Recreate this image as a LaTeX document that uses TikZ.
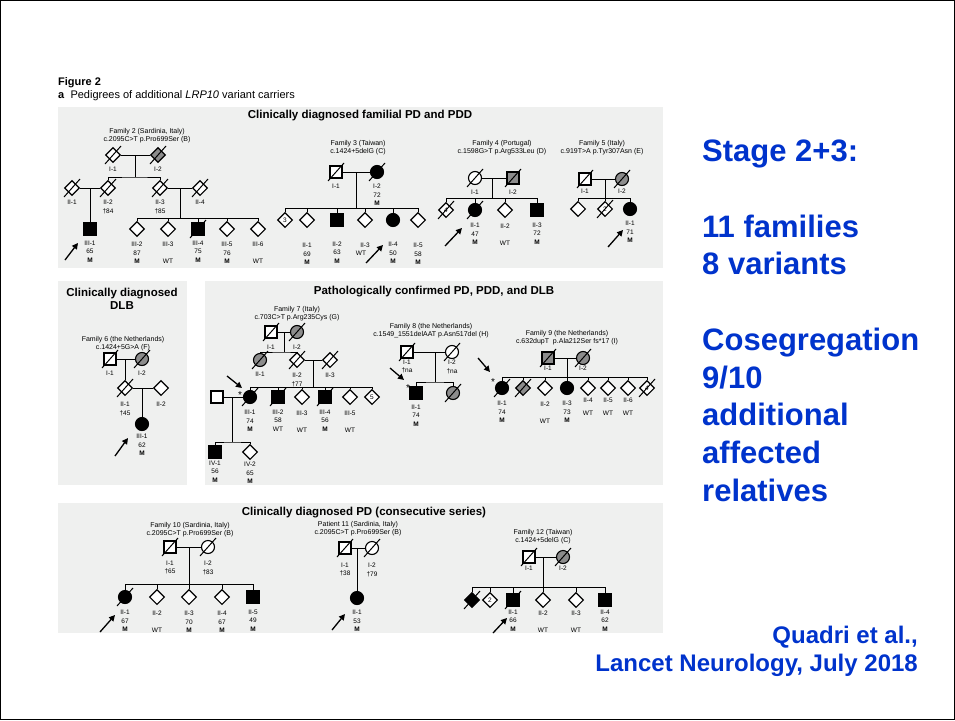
\documentclass[tikz,border=0pt]{standalone}
\usepackage{fontspec}
\setmainfont{Liberation Sans}
\usetikzlibrary{positioning,shapes.geometric,arrows.meta}
\definecolor{panel}{RGB}{239,240,239}
\definecolor{cargray}{RGB}{140,140,140}
\definecolor{slideblue}{RGB}{0,51,204}
\tikzset{
  ind/.style={draw,line width=1.1pt,fill=white,inner sep=0pt},
  male/.style={ind,rectangle,minimum size=12},
  female/.style={ind,circle,minimum size=13},
  unk/.style={ind,diamond,minimum size=15},
  aff/.style={fill=black},
  car/.style={fill=cargray},
  num/.style={font=\fontsize{6.5}{7}\selectfont},
  kin/.style={line width=1pt},
  lbl/.style={font=\fontsize{6.5}{8.5}\selectfont,align=center,inner sep=0pt,anchor=north},
  ttl/.style={font=\fontsize{7}{7.7}\selectfont,align=center,inner sep=0pt},
  hdr/.style={font=\bfseries\fontsize{11.5}{13}\selectfont,align=center,inner sep=0pt},
  proband/.style={line width=1.3pt,-{Triangle[length=6pt,width=6pt]}},
  astx/.style={font=\fontsize{10}{10}\selectfont,inner sep=0pt},
}
\begin{document}
\begin{tikzpicture}[x=1pt,y=-1pt]
\useasboundingbox (0,0) rectangle (955,720);
\draw[line width=1.2pt] (0.6,0.6) rectangle (954.4,719.4);
\fill[panel] (58,107) rectangle (663,268);
\fill[panel] (58,281) rectangle (187,485);
\fill[panel] (205,281) rectangle (663,485);
\fill[panel] (58,503) rectangle (663,633);
\node[font=\bfseries\fontsize{11}{13}\selectfont,anchor=west,inner sep=0pt] (fig) at (58,83) {Figure 2};
\node[font=\fontsize{11}{13}\selectfont,anchor=west,inner sep=0pt] (cap) at (58,96) {\textbf{a}\ \ Pedigrees of additional \textit{LRP10} variant carriers};
\node[hdr] (h1) at (360,116) {Clinically diagnosed familial PD and PDD};
\node[hdr] (h2) at (122,298.5) {Clinically diagnosed\\DLB};
\node[hdr] (h3) at (434,292) {Pathologically confirmed PD, PDD, and DLB};
\node[hdr] (h4) at (364,513) {Clinically diagnosed PD (consecutive series)};

% family 2
\node[ttl] (f2t) at (147,135.5) {Family 2 (Sardinia, Italy)\\c.2095C>T p.Pro699Ser (B)};
\node[unk] (f2i1) at (113,155) {};
\node[unk,car] (f2i2) at (158,155) {};
\node[unk] (f2ii1) at (72,188) {};
\node[unk] (f2ii2) at (108,188) {};
\node[unk] (f2ii3) at (160,188) {};
\node[unk] (f2ii4) at (200,188) {};
\node[male,aff] (f2iii1) at (90,229) {};
\node[unk] (f2iii2) at (137,229) {};
\node[unk] (f2iii3) at (168,229) {};
\node[male,aff] (f2iii4) at (198,229) {};
\node[unk] (f2iii5) at (227,229) {};
\node[unk] (f2iii6) at (258,229) {};
\coordinate (f2m1) at (135,155);
\coordinate (f2s1) at (135,177);
\coordinate (f2m2) at (90,188);
\coordinate (f2m3) at (180,188);
\coordinate (f2s3) at (180,218);
\draw[kin] (f2i1) -- (f2i2) (f2m1) -- (f2s1) (f2ii2) |- (f2s1) -| (f2ii3);
\draw[kin] (f2ii1) -- (f2ii2) (f2ii3) -- (f2ii4) (f2m2) -- (f2iii1) (f2m3) -- (f2s3);
\draw[kin] (f2iii2 |- f2s3) -- (f2iii6 |- f2s3);
\foreach \n in {f2iii2,f2iii3,f2iii4,f2iii5,f2iii6} \draw[kin] (\n) -- (\n |- f2s3);
\foreach \n in {f2i1,f2i2,f2ii1,f2ii2,f2ii3,f2ii4,f2iii4}
  \draw[kin] ([shift={(-8,9)}]\n.center) -- ([shift={(8,-9)}]\n.center);
\node[lbl,below=4pt of f2i1] (f2i1l) {I-1};
\node[lbl,below=4pt of f2i2] (f2i2l) {I-2};
\node[lbl,below=4pt of f2ii1] (f2ii1l) {II-1};
\node[lbl,below=4pt of f2ii2] (f2ii2l) {II-2\\†84};
\node[lbl,below=4pt of f2ii3] (f2ii3l) {II-3\\†85};
\node[lbl,below=4pt of f2ii4] (f2ii4l) {II-4};
\node[lbl,below=5pt of f2iii1] (f2iii1l) {III-1\\65\\\textbf{M}};
\node[lbl,below=5pt of f2iii2] (f2iii2l) {III-2\\87\\\textbf{M}};
\node[lbl,below=5pt of f2iii3] (f2iii3l) {III-3\\\mbox{}\\WT};
\node[lbl,below=5pt of f2iii4] (f2iii4l) {III-4\\75\\\textbf{M}};
\node[lbl,below=5pt of f2iii5] (f2iii5l) {III-5\\76\\\textbf{M}};
\node[lbl,below=5pt of f2iii6] (f2iii6l) {III-6\\\mbox{}\\WT};
\draw[proband] ([shift={(-25,31)}]f2iii1.center) -- ([shift={(-12,14)}]f2iii1.center);

% family 3
\node[ttl] (f3t) at (358,147.5) {Family 3 (Taiwan)\\c.1424+5delG (C)};
\node[male] (f3i1) at (336,172) {};
\node[female,aff] (f3i2) at (377,172) {};
\node[unk,num] (f3c) at (285,220) {3};
\node[unk] (f3ii1) at (307,220) {};
\node[male,aff] (f3ii2) at (337,220) {};
\node[unk] (f3ii3) at (365,220) {};
\node[female,aff] (f3ii4) at (393,220) {};
\node[unk] (f3ii5) at (418,220) {};
\coordinate (f3m) at (356,172);
\coordinate (f3s) at (356,208);
\draw[kin] (f3i1) -- (f3i2) (f3m) -- (f3s) (f3c |- f3s) -- (f3ii5 |- f3s);
\foreach \n in {f3c,f3ii1,f3ii2,f3ii3,f3ii4,f3ii5} \draw[kin] (\n) -- (\n |- f3s);
\foreach \n in {f3i1,f3i2}
  \draw[kin] ([shift={(-8,9)}]\n.center) -- ([shift={(8,-9)}]\n.center);
\node[lbl,below=5pt of f3i1] (f3i1l) {I-1};
\node[lbl,below=5pt of f3i2] (f3i2l) {I-2\\72\\\textbf{M}};
\node[lbl,below=15pt of f3ii1] (f3ii1l) {II-1\\69\\\textbf{M}};
\node[lbl,below=15pt of f3ii2] (f3ii2l) {II-2\\63\\\textbf{M}};
\node[lbl,below=15pt of f3ii3] (f3ii3l) {II-3};
\node[lbl] (f3ii3w) at ([shift={(-4,3)}]f3ii3l.south) {WT};
\node[lbl,below=15pt of f3ii4] (f3ii4l) {II-4\\50\\\textbf{M}};
\node[lbl,below=15pt of f3ii5] (f3ii5l) {II-5\\58\\\textbf{M}};
\draw[proband] ([shift={(1,43)}]f3ii3.center) -- ([shift={(18,25)}]f3ii3.center);

% family 4
\node[ttl] (f4t) at (502,147.5) {Family 4 (Portugal)\\c.1598G>T p.Arg533Leu (D)};
\node[female] (f4i1) at (475,178) {};
\node[male,car] (f4i2) at (513,178) {};
\node[unk,num] (f4c) at (446,210) {4};
\node[female,aff] (f4ii1) at (475,210) {};
\node[unk] (f4ii2) at (505,210) {};
\node[male,aff] (f4ii3) at (537,210) {};
\coordinate (f4m) at (492,178);
\coordinate (f4s) at (492,198);
\draw[kin] (f4i1) -- (f4i2) (f4m) -- (f4s) (f4c |- f4s) -- (f4ii3 |- f4s);
\foreach \n in {f4c,f4ii1,f4ii2,f4ii3} \draw[kin] (\n) -- (\n |- f4s);
\foreach \n in {f4i1,f4i2,f4c,f4ii1}
  \draw[kin] ([shift={(-8,9)}]\n.center) -- ([shift={(8,-9)}]\n.center);
\node[lbl,below=5pt of f4i1] (f4i1l) {I-1};
\node[lbl,below=5pt of f4i2] (f4i2l) {I-2};
\node[lbl,below=6pt of f4ii1] (f4ii1l) {II-1\\47\\\textbf{M}};
\node[lbl,below=6pt of f4ii2] (f4ii2l) {II-2\\\mbox{}\\WT};
\node[lbl,below=6pt of f4ii3] (f4ii3l) {II-3\\72\\\textbf{M}};
\draw[proband] ([shift={(-30,36)}]f4ii1.center) -- ([shift={(-13,18)}]f4ii1.center);

% family 5
\node[ttl] (f5t) at (602,147.5) {Family 5 (Italy)\\c.919T>A p.Tyr307Asn (E)};
\node[male] (f5i1) at (585,179) {};
\node[female,car] (f5i2) at (622,179) {};
\node[unk] (f5ii0) at (578,209) {};
\node[unk,num] (f5c) at (605,209) {2};
\node[female,aff] (f5ii1) at (630,209) {};
\coordinate (f5m) at (605,179);
\coordinate (f5s) at (605,198);
\draw[kin] (f5i1) -- (f5i2) (f5m) -- (f5s) (f5ii0 |- f5s) -- (f5ii1 |- f5s);
\foreach \n in {f5ii0,f5c,f5ii1} \draw[kin] (\n) -- (\n |- f5s);
\foreach \n in {f5i1,f5i2,f5c}
  \draw[kin] ([shift={(-8,9)}]\n.center) -- ([shift={(8,-9)}]\n.center);
\node[lbl,below=3pt of f5i1] (f5i1l) {I-1};
\node[lbl,below=3pt of f5i2] (f5i2l) {I-2};
\node[lbl,below=5pt of f5ii1] (f5ii1l) {II-1\\71\\\textbf{M}};
\draw[proband] ([shift={(-22,38)}]f5ii1.center) -- ([shift={(-7,21)}]f5ii1.center);

% family 6
\node[ttl] (f6t) at (123,344) {Family 6 (the Netherlands)\\c.1424+5G>A (F)};
\node[male] (f6i1) at (110,359) {};
\node[female,car] (f6i2) at (142,359) {};
\node[unk] (f6ii1) at (125,388) {};
\node[unk] (f6ii2) at (161,388) {};
\node[female,aff] (f6iii1) at (142,424) {};
\coordinate (f6m1) at (125,359);
\coordinate (f6m2) at (142,388);
\draw[kin] (f6i1) -- (f6i2) (f6m1) -- (f6ii1) (f6ii1) -- (f6ii2) (f6m2) -- (f6iii1);
\foreach \n in {f6i1,f6i2,f6ii1}
  \draw[kin] ([shift={(-8,9)}]\n.center) -- ([shift={(8,-9)}]\n.center);
\node[lbl,below=5pt of f6i1] (f6i1l) {I-1};
\node[lbl,below=5pt of f6i2] (f6i2l) {I-2};
\node[lbl,below=6pt of f6ii1] (f6ii1l) {II-1\\†45};
\node[lbl,below=6pt of f6ii2] (f6ii2l) {II-2};
\node[lbl,below=3pt of f6iii1] (f6iii1l) {III-1\\62\\\textbf{M}};
\draw[proband] ([shift={(-27,32)}]f6iii1.center) -- ([shift={(-14,14)}]f6iii1.center);

% family 7
\node[ttl] (f7t) at (297,313.5) {Family 7 (Italy)\\c.703C>T p.Arg235Cys (G)};
\node[male] (f7i1) at (271,332) {};
\node[female,car] (f7i2) at (297,332) {};
\node[female,car] (f7ii1) at (260,360) {};
\node[unk] (f7ii2) at (297,360) {};
\node[unk] (f7ii3) at (330,360) {};
\node[male] (f7sp) at (217,397) {};
\node[female,aff] (f7iii1) at (250,397) {};
\node[male,aff] (f7iii2) at (278,397) {};
\node[unk] (f7iii3) at (302,397) {};
\node[male,aff] (f7iii4) at (325,397) {};
\node[unk] (f7iii5) at (350,397) {};
\node[unk,num] (f7c) at (372,397) {5};
\node[male,aff] (f7iv1) at (215,452) {};
\node[unk] (f7iv2) at (250,452) {};
\coordinate (f7m1) at (284,332);
\coordinate (f7s1) at (284,352);
\coordinate (f7m2) at (313,360);
\coordinate (f7s2) at (313,387);
\coordinate (f7m3) at (232,397);
\coordinate (f7s3) at (232,442);
\draw[kin] (f7i1) -- (f7i2) (f7m1) -- (f7s1) (f7ii1) |- (f7s1) -| (f7ii2);
\draw[kin] (f7ii2) -- (f7ii3) (f7m2) -- (f7s2) (f7iii1 |- f7s2) -- (f7c |- f7s2);
\foreach \n in {f7iii1,f7iii2,f7iii3,f7iii4,f7iii5,f7c} \draw[kin] (\n) -- (\n |- f7s2);
\draw[kin] (f7sp) -- (f7iii1) (f7m3) -- (f7s3) (f7iv1) |- (f7s3) -| (f7iv2);
\foreach \n in {f7i1,f7i2,f7ii1,f7ii2,f7ii3,f7iii1,f7iii2,f7iii4}
  \draw[kin] ([shift={(-8,9)}]\n.center) -- ([shift={(8,-9)}]\n.center);
\node[lbl,below=6pt of f7i1] (f7i1l) {I-1};
\node[lbl,below=6pt of f7i2] (f7i2l) {I-2};
\node[lbl,below=5pt of f7ii1] (f7ii1l) {II-1};
\node[lbl,below=5pt of f7ii2] (f7ii2l) {II-2\\†77};
\node[lbl,below=5pt of f7ii3] (f7ii3l) {II-3};
\node[lbl,below=6pt of f7iii1] (f7iii1l) {III-1\\74\\\textbf{M}};
\node[lbl,below=6pt of f7iii2] (f7iii2l) {III-2\\58\\WT};
\node[lbl,below=6pt of f7iii3] (f7iii3l) {III-3\\\mbox{}\\WT};
\node[lbl,below=6pt of f7iii4] (f7iii4l) {III-4\\56\\\textbf{M}};
\node[lbl,below=6pt of f7iii5] (f7iii5l) {III-5\\\mbox{}\\WT};
\node[lbl,below=2pt of f7iv1] (f7iv1l) {IV-1\\56\\\textbf{M}};
\node[lbl,below=2pt of f7iv2] (f7iv2l) {IV-2\\65\\\textbf{M}};
\node[astx] (f7a) at ([shift={(-10,-2)}]f7iii1.center) {*};
\draw[proband] ([shift={(-23,-21)}]f7iii1.center) -- ([shift={(-8,-9)}]f7iii1.center);

% family 8
\node[ttl] (f8t) at (431,331) {Family 8 (the Netherlands)\\c.1549\_1551delAAT p.Asn517del (H)};
\node[male] (f8i1) at (407,352) {};
\node[female] (f8i2) at (452,352) {};
\node[male,aff] (f8ii1) at (416,393) {};
\node[female,car] (f8ii2) at (453,393) {};
\coordinate (f8m) at (435,352);
\coordinate (f8s) at (435,382);
\draw[kin] (f8i1) -- (f8i2) (f8m) -- (f8s) (f8ii1) |- (f8s) -| (f8ii2);
\foreach \n in {f8i1,f8i2,f8ii2}
  \draw[kin] ([shift={(-8,9)}]\n.center) -- ([shift={(8,-9)}]\n.center);
\node[lbl,below=1pt of f8i1] (f8i1l) {I-1\\†na};
\node[lbl,below=1pt of f8i2] (f8i2l) {I-2\\†na};
\node[lbl,below=5pt of f8ii1] (f8ii1l) {II-1\\74\\\textbf{M}};
\node[astx] (f8a) at ([shift={(-8,-5)}]f8ii1.center) {*};
\draw[proband] ([shift={(-26,-25)}]f8ii1.center) -- ([shift={(-12,-13)}]f8ii1.center);

% family 9
\node[ttl] (f9t) at (567,337.5) {Family 9 (the Netherlands)\\c.632dupT\ \ p.Ala212Ser fs*17 (I)};
\node[male,car] (f9i1) at (548,358) {};
\node[female,car] (f9i2) at (583,358) {};
\node[female,aff] (f9ii1) at (502,388) {};
\node[unk,car] (f9g) at (523,388) {};
\node[unk] (f9ii2) at (545,388) {};
\node[female,aff] (f9ii3) at (567,388) {};
\node[unk] (f9ii4) at (588,388) {};
\node[unk] (f9ii5) at (608,388) {};
\node[unk] (f9ii6) at (628,388) {};
\node[unk,num] (f9c) at (647,388) {4};
\coordinate (f9m) at (567,358);
\coordinate (f9s) at (567,377);
\draw[kin] (f9i1) -- (f9i2) (f9m) -- (f9s) (f9ii1 |- f9s) -- (f9c |- f9s);
\foreach \n in {f9ii1,f9g,f9ii2,f9ii3,f9ii4,f9ii5,f9ii6,f9c} \draw[kin] (\n) -- (\n |- f9s);
\foreach \n in {f9i1,f9i2,f9ii1,f9g,f9c}
  \draw[kin] ([shift={(-8,9)}]\n.center) -- ([shift={(8,-9)}]\n.center);
\node[lbl,below=1pt of f9i1] (f9i1l) {I-1};
\node[lbl,below=1pt of f9i2] (f9i2l) {I-2};
\node[lbl,below=6pt of f9ii1] (f9ii1l) {II-1\\74\\\textbf{M}};
\node[lbl,below=6pt of f9ii2] (f9ii2l) {II-2\\\mbox{}\\WT};
\node[lbl,below=6pt of f9ii3] (f9ii3l) {II-3\\73\\\textbf{M}};
\node[lbl,below=2pt of f9ii4] (f9ii4l) {II-4\\[4pt]WT};
\node[lbl,below=2pt of f9ii5] (f9ii5l) {II-5\\[4pt]WT};
\node[lbl,below=2pt of f9ii6] (f9ii6l) {II-6\\[4pt]WT};
\node[astx] (f9a) at ([shift={(-9,-6)}]f9ii1.center) {*};
\draw[proband] ([shift={(-24,-30)}]f9ii1.center) -- ([shift={(-12,-16)}]f9ii1.center);

% family 10
\node[ttl] (f10t) at (190,530) {Family 10 (Sardinia, Italy)\\c.2095C>T p.Pro699Ser (B)};
\node[male] (f10i1) at (170,547) {};
\node[female] (f10i2) at (208,547) {};
\node[female,aff] (f10ii1) at (125,597) {};
\node[unk] (f10ii2) at (157,597) {};
\node[unk] (f10ii3) at (189,597) {};
\node[unk] (f10ii4) at (222,597) {};
\node[male,aff] (f10ii5) at (253,597) {};
\coordinate (f10m) at (189,547);
\coordinate (f10s) at (189,584);
\draw[kin] (f10i1) -- (f10i2) (f10m) -- (f10s) (f10ii1 |- f10s) -- (f10ii5 |- f10s);
\foreach \n in {f10ii1,f10ii2,f10ii3,f10ii4,f10ii5} \draw[kin] (\n) -- (\n |- f10s);
\foreach \n in {f10i1,f10i2,f10ii1}
  \draw[kin] ([shift={(-8,9)}]\n.center) -- ([shift={(8,-9)}]\n.center);
\node[lbl,below=7pt of f10i1] (f10i1l) {I-1\\†65};
\node[lbl,below=7pt of f10i2] (f10i2l) {I-2\\†83};
\node[lbl,below=6pt of f10ii1] (f10ii1l) {II-1\\67\\\textbf{M}};
\node[lbl,below=6pt of f10ii2] (f10ii2l) {II-2\\\mbox{}\\WT};
\node[lbl,below=6pt of f10ii3] (f10ii3l) {II-3\\70\\\textbf{M}};
\node[lbl,below=6pt of f10ii4] (f10ii4l) {II-4\\67\\\textbf{M}};
\node[lbl,below=6pt of f10ii5] (f10ii5l) {II-5\\49\\\textbf{M}};
\draw[proband] ([shift={(-25,35)}]f10ii1.center) -- ([shift={(-10,18)}]f10ii1.center);

% patient 11
\node[ttl] (p11t) at (358,529) {Patient 11 (Sardinia, Italy)\\c.2095C>T p.Pro699Ser (B)};
\node[male] (p11i1) at (345,548) {};
\node[female] (p11i2) at (372,548) {};
\node[female,aff] (p11ii1) at (357,598) {};
\coordinate (p11m) at (357,548);
\draw[kin] (p11i1) -- (p11i2) (p11m) -- (p11ii1);
\foreach \n in {p11i1,p11i2}
  \draw[kin] ([shift={(-8,9)}]\n.center) -- ([shift={(8,-9)}]\n.center);
\node[lbl,below=8pt of p11i1] (p11i1l) {I-1\\†38};
\node[lbl,below=8pt of p11i2] (p11i2l) {I-2\\†79};
\node[lbl,below=5pt of p11ii1] (p11ii1l) {II-1\\53\\\textbf{M}};
\draw[proband] ([shift={(-25,32)}]p11ii1.center) -- ([shift={(-12,16)}]p11ii1.center);

% family 12
\node[ttl] (f12t) at (543,537) {Family 12 (Taiwan)\\c.1424+5delG (C)};
\node[male] (f12i1) at (529,557) {};
\node[female,car] (f12i2) at (563,557) {};
\node[unk,aff] (f12k) at (472,600) {};
\node[unk,num] (f12c) at (490,600) {2};
\node[male,aff] (f12ii1) at (513,600) {};
\node[unk] (f12ii2) at (543,600) {};
\node[unk] (f12ii3) at (576,600) {};
\node[male,aff] (f12ii4) at (605,600) {};
\coordinate (f12m) at (543,557);
\coordinate (f12s) at (543,587);
\draw[kin] (f12i1) -- (f12i2) (f12m) -- (f12s) (f12k |- f12s) -- (f12ii4 |- f12s);
\foreach \n in {f12k,f12c,f12ii1,f12ii2,f12ii3,f12ii4} \draw[kin] (\n) -- (\n |- f12s);
\foreach \n in {f12i1,f12i2,f12k,f12ii1}
  \draw[kin] ([shift={(-8,9)}]\n.center) -- ([shift={(8,-9)}]\n.center);
\node[lbl,below=2pt of f12i1] (f12i1l) {I-1};
\node[lbl,below=2pt of f12i2] (f12i2l) {I-2};
\node[lbl,below=3pt of f12ii1] (f12ii1l) {II-1\\66\\\textbf{M}};
\node[lbl,below=3pt of f12ii2] (f12ii2l) {II-2\\\mbox{}\\WT};
\node[lbl,below=3pt of f12ii3] (f12ii3l) {II-3\\\mbox{}\\WT};
\node[lbl,below=3pt of f12ii4] (f12ii4l) {II-4\\62\\\textbf{M}};
\draw[proband] ([shift={(-20,33)}]f12ii1.center) -- ([shift={(-6,18)}]f12ii1.center);

\node[font=\bfseries\fontsize{31}{37.7}\selectfont,text=slideblue,align=left,anchor=north west,inner sep=0pt] (stage) at (702,140) {Stage 2+3:\\[37.7pt]11 families\\8 variants\\[37.7pt]Cosegregation\\9/10\\additional\\affected\\relatives};
\node[font=\bfseries\fontsize{24}{28}\selectfont,text=slideblue,align=right,anchor=north east,inner sep=0pt] (ref) at (918,626) {Quadri et al.,\\Lancet Neurology, July 2018};
\end{tikzpicture}
\end{document}
